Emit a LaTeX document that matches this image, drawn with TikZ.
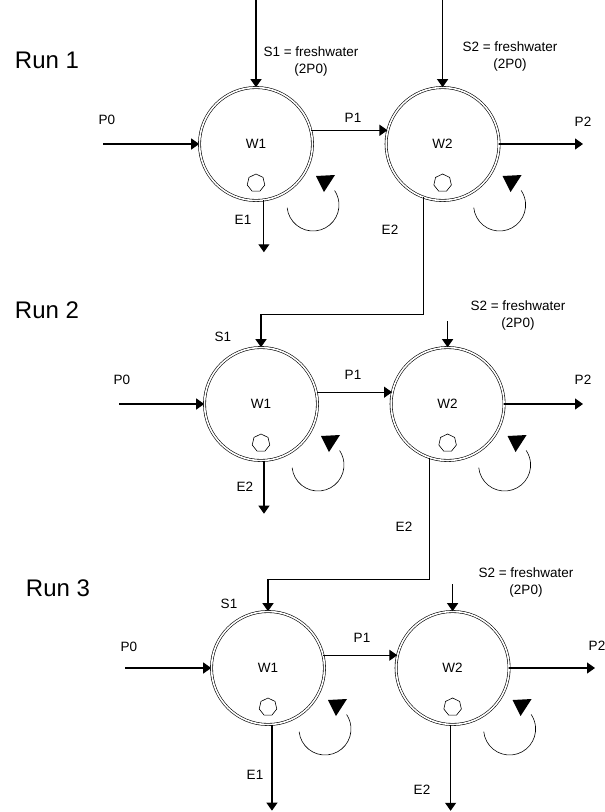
\documentclass[tikz,border=0pt]{standalone}
\usepackage{fontspec}
\setmainfont{Liberation Sans}
\usetikzlibrary{positioning,arrows.meta,shapes.geometric,calc}

\begin{document}
\begin{tikzpicture}[x=1pt,y=-1pt,
    tank/.style={draw,circle,double,double distance=1.6pt,line width=0.6pt,minimum size=113pt,inner sep=0pt,font=\fontsize{13.5}{16}\selectfont},
    txt/.style={font=\fontsize{13.5}{17}\selectfont,inner sep=0pt,align=center},
    runtxt/.style={font=\fontsize{24}{28}\selectfont,inner sep=0pt},
    flow/.style={line width=1.1pt,-{Triangle[length=8pt,width=11pt]}},
    stone/.style={draw,regular polygon,regular polygon sides=7,minimum size=18pt,inner sep=0pt,line width=0.6pt},
    swirl/.style={line width=0.6pt}]
    \useasboundingbox (0,0) rectangle (605,812);
    \coordinate (top) at (0,0);

    % run 1
    \node(runA)[runtxt] at (47,60) {Run 1};
    \node(Wa1)[tank] at (256,144) {W1};
    \node(Wa2)[tank,right=73pt of Wa1] {W2};
    \coordinate (pa0) at (103,144);
    \coordinate (pa2) at (583,144);
    \coordinate (ea1) at ($(Wa1.-82)+(0,52)$);
    \draw[flow] (Wa1.north |- top) -- (Wa1.north);
    \draw[flow] (Wa2.north |- top) -- (Wa2.north);
    \draw[flow] (pa0) -- (Wa1.west);
    \draw[flow] (Wa1.14) -- (Wa2.166);
    \draw[flow] (Wa2.east) -- (pa2);
    \draw[flow] (Wa1.-82) -- (ea1);
    \node(sa1)[txt] at (311,62) {S1 = freshwater\\(2P0)};
    \node(sa2)[txt] at (510,57) {S2 = freshwater\\(2P0)};
    \node(la0)[txt] at (107,120) {P0};
    \node(la1)[txt] at (353,118) {P1};
    \node(la2)[txt] at (583,122) {P2};
    \node(lea1)[txt] at (243,220) {E1};
    \node(lea2)[txt] at (390,230) {E2};

    % run 2
    \node(runB)[runtxt] at (47,310) {Run 2};
    \node(Wb1)[tank] at (261,404) {W1};
    \node(Wb2)[tank,right=73pt of Wb1] {W2};
    \coordinate (pb0) at (119,404);
    \coordinate (pb2) at (583,404);
    \coordinate (eb1) at ($(Wb1.-87)+(0,53)$);
    \coordinate (sb2) at ($(Wb2.north)+(0,-26)$);
    \draw[flow] (Wa2.-110) |- ($(Wb1.north)+(0,-33)$) -- (Wb1.north);
    \draw[flow] (sb2) -- (Wb2.north);
    \draw[flow] (pb0) -- (Wb1.west);
    \draw[flow] (Wb1.12) -- (Wb2.168);
    \draw[flow] (Wb2.east) -- (pb2);
    \draw[flow] (Wb1.-87) -- (eb1);
    \node(sb1)[txt] at (223,337) {S1};
    \node(lsb2)[txt] at (518,315) {S2 = freshwater\\(2P0)};
    \node(lb0)[txt] at (122,380) {P0};
    \node(lb1)[txt] at (353,375) {P1};
    \node(lb2)[txt] at (583,380) {P2};
    \node(leb1)[txt] at (245,487) {E2};
    \node(leb2)[txt] at (404,527) {E2};

    % run 3
    \node(runC)[runtxt] at (58,588) {Run 3};
    \node(Wc1)[tank] at (268,668) {W1};
    \node(Wc2)[tank,right=71pt of Wc1] {W2};
    \coordinate (pc0) at (125,668);
    \coordinate (pc2) at (595,668);
    \coordinate (ec1) at ($(Wc1.-86)+(0,86)$);
    \coordinate (ec2) at ($(Wc2.-92)+(0,86)$);
    \coordinate (sc2) at ($(Wc2.north)+(0,-27)$);
    \draw[flow] (Wb2.-109) |- ($(Wc1.north)+(0,-32)$) -- (Wc1.north);
    \draw[flow] (sc2) -- (Wc2.north);
    \draw[flow] (pc0) -- (Wc1.west);
    \draw[flow] (Wc1.13) -- (Wc2.167);
    \draw[flow] (Wc2.east) -- (pc2);
    \draw[flow] (Wc1.-86) -- (ec1);
    \draw[flow] (Wc2.-92) -- (ec2);
    \node(sc1)[txt] at (229,604) {S1};
    \node(lsc2)[txt] at (526,582) {S2 = freshwater\\(2P0)};
    \node(lc0)[txt] at (129,647) {P0};
    \node(lc1)[txt] at (362,638) {P1};
    \node(lc2)[txt] at (597,646) {P2};
    \node(lec1)[txt] at (255,775) {E1};
    \node(lec2)[txt] at (422,790) {E2};

    % stones and stirring
    \foreach \w in {Wa1,Wa2,Wb1,Wb2,Wc1,Wc2}{
        \node(st\w)[stone] at ($(\w)+(0,39)$) {};
        \draw[swirl] ($(\w)+(57,61)+(174:26)$) arc[start angle=174,end angle=-34,radius=26];
        \fill ($(\w)+(60,32)$) -- ($(\w)+(79,31)$) -- ($(\w)+(68,48)$) -- cycle;
    }
\end{tikzpicture}
\end{document}
